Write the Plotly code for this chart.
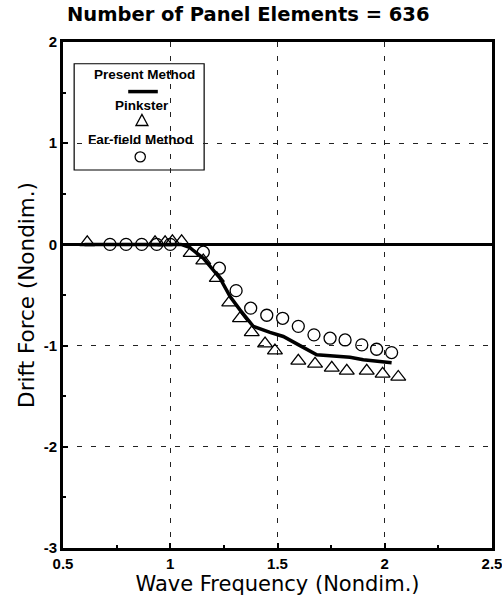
import plotly.graph_objects as go

# ---- data ----
present_x = [0.6, 0.8, 1.0, 1.05, 1.09, 1.154, 1.232, 1.279, 1.325, 1.387, 1.465,
             1.527, 1.605, 1.683, 1.745, 1.838, 1.9, 2.032]
present_y = [0.0, 0.0, 0.0, 0.0, -0.03, -0.136, -0.334, -0.516, -0.647, -0.81, -0.87,
             -0.91, -1.0, -1.09, -1.10, -1.115, -1.14, -1.17]

pinkster_x = [0.613, 0.929, 0.976, 1.01, 1.053, 1.095, 1.154, 1.217, 1.275, 1.325,
              1.38, 1.442, 1.488, 1.597, 1.675, 1.753, 1.823, 1.916, 1.99, 2.063]
pinkster_y = [0.02, 0.02, 0.02, 0.03, 0.03, -0.087, -0.16, -0.334, -0.575, -0.73,
              -0.87, -0.98, -1.05, -1.15, -1.18, -1.22, -1.25, -1.25, -1.28, -1.31]

farfield_x = [0.719, 0.794, 0.867, 0.937, 1.0, 1.154, 1.229, 1.307, 1.375, 1.45,
              1.524, 1.597, 1.67, 1.745, 1.815, 1.893, 1.962, 2.032]
farfield_y = [0.0, 0.0, 0.0, 0.0, 0.0, -0.077, -0.235, -0.457, -0.63, -0.70,
              -0.73, -0.81, -0.894, -0.927, -0.944, -0.993, -1.036, -1.069]

x_ticks = [0.5, 1, 1.5, 2, 2.5]
x_tick_labels = ["0.5", "1", "1.5", "2", "2.5"]
y_ticks = [-3, -2, -1, 0, 1, 2]
y_tick_labels = ["-3", "-2", "-1", "0", "1", "2"]

legend_labels = ["Present Method", "Pinkster", "Far-field Method"]

FONT = "Liberation Sans, Arial, sans-serif"
TFONT = "DejaVu Sans, sans-serif"

fig = go.Figure()
fig.add_trace(go.Scatter(x=present_x, y=present_y, mode="lines", name=legend_labels[0],
                         line=dict(color="black", width=3.5), showlegend=False))
fig.add_trace(go.Scatter(x=pinkster_x, y=pinkster_y, mode="markers", name=legend_labels[1],
                         marker=dict(symbol="triangle-up-open", size=13, color="black",
                                     line=dict(width=1.3)), showlegend=False))
fig.add_trace(go.Scatter(x=farfield_x, y=farfield_y, mode="markers", name=legend_labels[2],
                         marker=dict(symbol="circle-open", size=12, color="black",
                                     line=dict(width=1.3)), showlegend=False))

# ---- custom legend box (label above its symbol, as in the reference) ----
fig.add_shape(type="rect", xref="paper", yref="paper", x0=0.026, x1=0.329, y0=0.747, y1=0.957,
              line=dict(color="black", width=1.2), fillcolor="white", layer="below")
fig.add_shape(type="line", xref="paper", yref="paper", x0=0.152, x1=0.221, y0=0.902, y1=0.902,
              line=dict(color="black", width=3.5))
fig.add_shape(type="path", xref="paper", yref="paper",
              path="M 0.170 0.835 L 0.198 0.835 L 0.184 0.857 Z",
              line=dict(color="black", width=1.3))
fig.add_shape(type="circle", xref="paper", yref="paper",
              x0=0.168, x1=0.192, y0=0.763, y1=0.783,
              line=dict(color="black", width=1.3))
leg_font = dict(family=FONT, size=13.5, color="black")
fig.add_annotation(xref="paper", yref="paper", x=0.19, y=0.935, text="<b>" + legend_labels[0] + "</b>",
                   showarrow=False, font=leg_font, xanchor="center", yanchor="middle")
fig.add_annotation(xref="paper", yref="paper", x=0.184, y=0.874, text="<b>" + legend_labels[1] + "</b>",
                   showarrow=False, font=leg_font, xanchor="center", yanchor="middle")
fig.add_annotation(xref="paper", yref="paper", x=0.18, y=0.808, text="<b>" + legend_labels[2] + "</b>",
                   showarrow=False, font=leg_font, xanchor="center", yanchor="middle")

axis_common = dict(
    showline=True, linecolor="black", linewidth=3, mirror=True,
    ticks="inside", ticklen=5, tickwidth=1.5, tickcolor="black",
    showgrid=True, gridcolor="#222", gridwidth=1, griddash="5px,9px",
    tickfont=dict(family=FONT, size=15, color="black", weight="bold"),
    automargin=False,
)

fig.update_xaxes(range=[0.5, 2.5], tickvals=x_ticks, ticktext=x_tick_labels,
                 zeroline=False,
                 minor=dict(ticks="inside", dtick=0.25, ticklen=3, tickcolor="black", showgrid=False),
                 title=dict(text="Wave Frequency (Nondim.)", font=dict(family=TFONT, size=21, color="black"),
                            standoff=6),
                 **axis_common)
fig.update_yaxes(range=[-3, 2], tickvals=y_ticks, ticktext=y_tick_labels,
                 zeroline=True, zerolinecolor="black", zerolinewidth=3,
                 minor=dict(ticks="inside", dtick=0.5, ticklen=3, tickcolor="black", showgrid=False),
                 title=dict(text="Drift Force (Nondim.)", font=dict(family=TFONT, size=21.5, color="black"),
                            standoff=4),
                 **axis_common)

# figure is slightly wider than the window so the "2.5" label at the right edge is not dropped
fig.update_layout(
    width=514, height=602,
    margin=dict(l=63, r=22, t=42, b=54, autoexpand=False),
    paper_bgcolor="white", plot_bgcolor="white",
    title=dict(text="<b>Number of Panel Elements = 636</b>", x=0.483, xanchor="center",
               y=0.977, yanchor="middle", font=dict(family=TFONT, size=19.5, color="black")),
    showlegend=False,
)

fig.write_html("out.html", config={"displayModeBar": False},
               post_script="document.body.style.margin='0';document.body.style.overflow='hidden';")
